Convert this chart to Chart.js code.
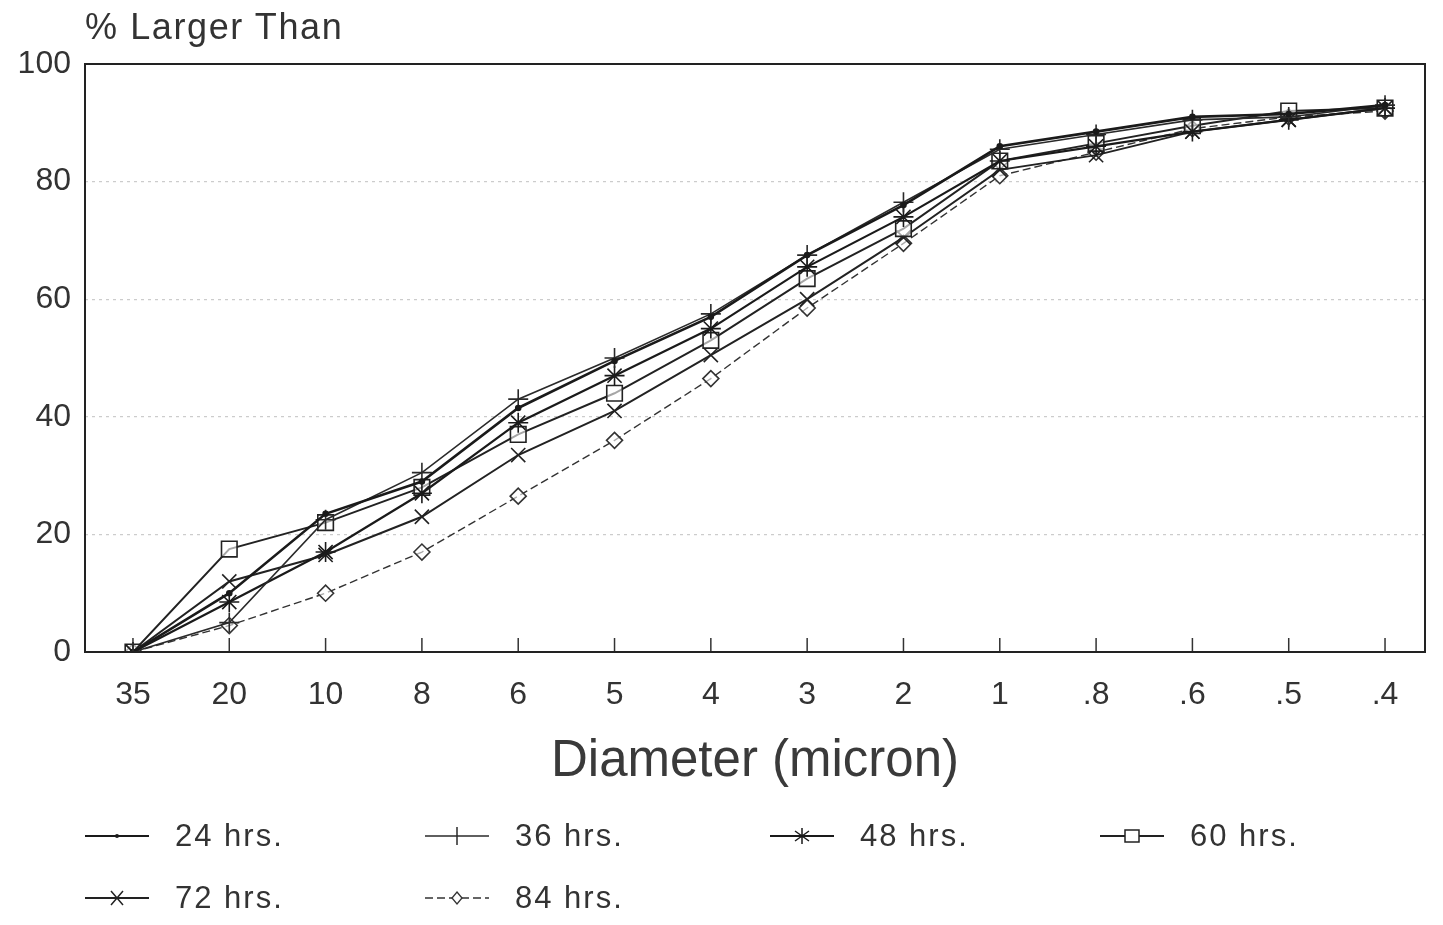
<!DOCTYPE html>
<html>
<head>
<meta charset="utf-8">
<script src="https://cdn.jsdelivr.net/npm/chart.js@4.4.1/dist/chart.umd.min.js"></script>
<style>
  html,body{margin:0;padding:0;background:#fff;}
  #wrap{position:relative;width:1443px;height:925px;overflow:hidden;font-family:"Liberation Sans",Arial,sans-serif;color:#333;}
  #c{position:absolute;left:0;top:0;}
  #ytitle{position:absolute;left:85px;top:6px;font-size:36px;letter-spacing:1.6px;color:#333;}
  .lg{position:absolute;display:flex;align-items:center;font-size:31px;letter-spacing:2px;color:#333;}
  .lg svg{margin-right:26px;}
</style>
</head>
<body>
<div id="wrap">
  <canvas id="c" width="1443" height="925"></canvas>
  <div id="ytitle">% Larger Than</div>
  <div id="legend"></div>
</div>
<script>
const categories = ["35","20","10","8","6","5","4","3","2","1",".8",".6",".5",".4"];
const seriesNames = ["24 hrs.","36 hrs.","48 hrs.","60 hrs.","72 hrs.","84 hrs."];
const hrs24 = [0, 10, 23.5, 29, 41.5, 49.5, 57, 67.5, 76, 86, 88.5, 91, 91.5, 93];
const hrs36 = [0, 5, 22.5, 30.5, 43, 50, 57.5, 67.5, 76.5, 85.5, 88, 90.5, 91, 93];
const hrs48 = [0, 8.5, 17, 27, 39, 47, 55, 65.5, 74, 83.5, 86, 88.5, 90.5, 92.5];
const hrs60 = [0, 17.5, 22, 28, 37, 44, 53, 63.5, 72, 83.5, 86.5, 89.5, 92, 92.5];
const hrs72 = [0, 12, 16.5, 23, 33.5, 41, 50.5, 60, 70.5, 82, 84.5, 88.5, 90.5, 92.5];
const hrs84 = [0, 4.5, 10, 17, 26.5, 36, 46.5, 58.5, 69.5, 81, 85, 89, 91, 92];
const yTicks = [0, 20, 40, 60, 80, 100];

const FONT = '"Liberation Sans", Arial, sans-serif';

const styles = [
  {data: hrs24, pointStyle:'circle', radius:2.5, width:2.6, dash:[], color:'#1a1a1a'},
  {data: hrs36, pointStyle:'cross', radius:10, width:1.6, dash:[], color:'#2a2a2a'},
  {data: hrs48, pointStyle:'star', radius:10, width:2.2, dash:[], color:'#1a1a1a'},
  {data: hrs60, pointStyle:'rect', radius:11, width:2, dash:[], color:'#222'},
  {data: hrs72, pointStyle:'crossRot', radius:10, width:2, dash:[], color:'#222'},
  {data: hrs84, pointStyle:'rectRot', radius:8, width:1.4, dash:[8,4], color:'#333'}
];

const datasets = styles.map((s,i)=>({
  label: seriesNames[i],
  data: s.data.map((v,j)=>({x:j, y:v})),
  borderColor: s.color,
  backgroundColor: '#fff',
  borderWidth: s.width,
  borderDash: s.dash,
  pointStyle: s.pointStyle,
  pointRadius: s.radius,
  pointBorderWidth: 1.6,
  pointBorderColor: s.color,
  pointBackgroundColor: s.pointStyle==='circle' ? s.color : 'rgba(255,255,255,0.6)',
  tension: 0,
  fill: false
}));

const innerTicks = {
  id:'innerTicks',
  afterDraw(chart){
    const ctx = chart.ctx, xs = chart.scales.x, a = chart.chartArea;
    ctx.save();
    ctx.strokeStyle='#333'; ctx.lineWidth=1.5;
    categories.forEach((c,i)=>{
      const x = xs.getPixelForValue(i);
      ctx.beginPath(); ctx.moveTo(x,a.bottom); ctx.lineTo(x,a.bottom-14); ctx.stroke();
    });
    ctx.strokeStyle='#222'; ctx.lineWidth=2;
    ctx.strokeRect(a.left,a.top,a.right-a.left,a.bottom-a.top);
    ctx.restore();
  }
};

new Chart(document.getElementById('c'), {
  type:'line',
  data:{datasets},
  plugins:[innerTicks],
  options:{
    responsive:false,
    animation:false,
    layout:{padding:{left:0,right:18,top:64,bottom:132}},
    plugins:{legend:{display:false}, tooltip:{enabled:false}},
    scales:{
      x:{
        type:'linear',
        min:-0.498, max:13.415,
        afterBuildTicks(s){ s.ticks = categories.map((c,i)=>({value:i})); },
        grid:{display:false, drawTicks:false},
        border:{display:false},
        ticks:{padding:24, color:'#333', autoSkip:false, maxRotation:0,
               callback:(v)=>categories[v],
               font:{family:FONT, size:32}},
        title:{display:true, text:'Diameter (micron)', color:'#3a3a3a', padding:0,
               font:{family:FONT, size:51}},
        afterFit(s){ s.height = 141; }
      },
      y:{
        min:0, max:100,
        afterBuildTicks(s){ s.ticks = yTicks.map(v=>({value:v})); },
        grid:{color:'rgba(0,0,0,0.2)', lineWidth:1.2, drawTicks:false},
        border:{display:false, dash:[3,4]},
        ticks:{padding:14, color:'#333', font:{family:FONT, size:32}},
        afterFit(s){ s.width = 85; }
      }
    }
  }
});

// HTML legend
const legendPos = [
  {x:85, y:836}, {x:425, y:836}, {x:770, y:836}, {x:1100, y:836},
  {x:85, y:898}, {x:425, y:898}
];
function markerSvg(st, color){
  const cx=32, cy=12;
  switch(st){
    case 'circle': return `<circle cx="${cx}" cy="${cy}" r="2" fill="${color}"/>`;
    case 'cross': return `<path d="M${cx} ${cy-9}V${cy+9}" stroke="${color}" stroke-width="1.5"/>`;
    case 'star': return `<path d="M${cx} ${cy-8}V${cy+8}M${cx-7} ${cy-5}L${cx+7} ${cy+5}M${cx+7} ${cy-5}L${cx-7} ${cy+5}" stroke="${color}" stroke-width="1.5"/>`;
    case 'rect': return `<rect x="${cx-7}" y="${cy-6}" width="14" height="12" fill="#fff" stroke="${color}" stroke-width="1.5"/>`;
    case 'crossRot': return `<path d="M${cx-6} ${cy-7}L${cx+6} ${cy+7}M${cx+6} ${cy-7}L${cx-6} ${cy+7}" stroke="${color}" stroke-width="1.5"/>`;
    case 'rectRot': return `<path d="M${cx} ${cy-6}L${cx+5} ${cy}L${cx} ${cy+6}L${cx-5} ${cy}Z" fill="#fff" stroke="${color}" stroke-width="1.3"/>`;
  }
  return '';
}
const legendEl = document.getElementById('legend');
styles.forEach((s,i)=>{
  const p = legendPos[i];
  const d = document.createElement('div');
  d.className='lg';
  d.style.left=p.x+'px'; d.style.top=(p.y-18)+'px';
  const dash = s.dash.length ? `stroke-dasharray="${s.dash.join(' ')}"` : '';
  d.innerHTML = `<svg width="64" height="24"><line x1="0" y1="12" x2="64" y2="12" stroke="${s.color}" stroke-width="${Math.min(s.width,2.2)}" ${dash}/>${markerSvg(s.pointStyle,s.color)}</svg><span>${seriesNames[i]}</span>`;
  legendEl.appendChild(d);
});
</script>
</body>
</html>
